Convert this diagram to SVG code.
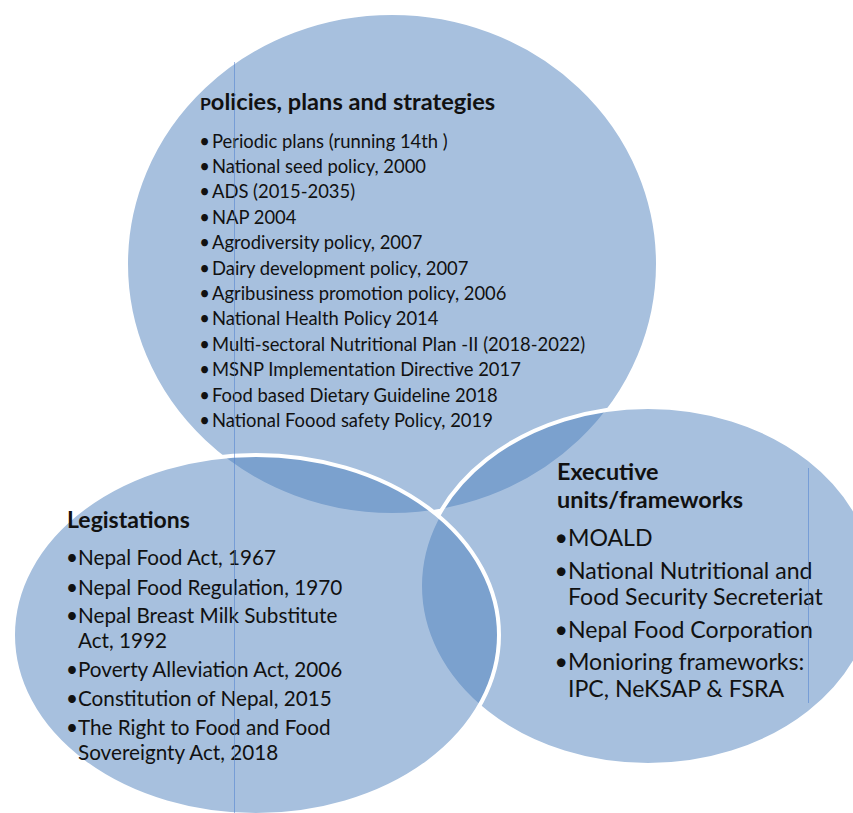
<svg xmlns="http://www.w3.org/2000/svg" width="853" height="813" viewBox="0 0 853 813">
<style>
.blob{fill:#4f81bd;fill-opacity:.5;stroke:#fff;stroke-width:4}
.guide{stroke:#4f7fd0;stroke-opacity:.55;stroke-width:1}
text{font-family:Lato,"Liberation Sans",sans-serif;fill:#111}
.h{font-weight:bold}
.b{text-anchor:end}
.tb{font-size:18.4px}
.lb{font-size:20.7px}
.rb{font-size:23.1px}
</style>
<rect width="853" height="813" fill="#fff"/>
<g id="policies">
<ellipse class="blob" cx="392" cy="264" rx="266" ry="251"/>
<text class="h" x="200" y="110" font-size="23.6"><tspan font-size="17.5">P</tspan>olicies, plans and strategies</text>
<g class="tb">
<text class="b" x="210" y="147.5">•</text><text x="212" y="147.5">Periodic plans (running 14th )</text>
<text class="b" x="210" y="172.9">•</text><text x="212" y="172.9">National seed policy, 2000</text>
<text class="b" x="210" y="198.3">•</text><text x="212" y="198.3">ADS (2015-2035)</text>
<text class="b" x="210" y="223.7">•</text><text x="212" y="223.7">NAP 2004</text>
<text class="b" x="210" y="249.1">•</text><text x="212" y="249.1">Agrodiversity policy, 2007</text>
<text class="b" x="210" y="274.5">•</text><text x="212" y="274.5">Dairy development policy, 2007</text>
<text class="b" x="210" y="299.9">•</text><text x="212" y="299.9">Agribusiness promotion policy, 2006</text>
<text class="b" x="210" y="325.3">•</text><text x="212" y="325.3">National Health Policy 2014</text>
<text class="b" x="210" y="350.7">•</text><text x="212" y="350.7">Multi-sectoral Nutritional Plan -II (2018-2022)</text>
<text class="b" x="210" y="376.1">•</text><text x="212" y="376.1">MSNP Implementation Directive 2017</text>
<text class="b" x="210" y="401.5">•</text><text x="212" y="401.5">Food based Dietary Guideline 2018</text>
<text class="b" x="210" y="426.9">•</text><text x="212" y="426.9">National Foood safety Policy, 2019</text>
</g>
</g>
<g id="executive">
<ellipse class="blob" cx="648" cy="586" rx="228" ry="179"/>
<text class="h" x="557" y="480" font-size="23.4">Executive</text>
<text class="h" x="557" y="508" font-size="23.4">units/frameworks</text>
<g class="rb">
<text class="b" x="568" y="546">•</text><text x="568" y="546">MOALD</text>
<text class="b" x="568" y="579">•</text><text x="568" y="579">National Nutritional and</text>
<text x="568" y="605">Food Security Secreteriat</text>
<text class="b" x="568" y="638">•</text><text x="568" y="638">Nepal Food Corporation</text>
<text class="b" x="568" y="670">•</text><text x="568" y="670">Monioring frameworks:</text>
<text x="568" y="697">IPC, NeKSAP &amp; FSRA</text>
</g>
</g>
<g id="legislations">
<ellipse class="blob" cx="256" cy="635" rx="243" ry="180"/>
<text class="h" x="67" y="528" font-size="23">Legistations</text>
<g class="lb">
<text class="b" x="78" y="565">•</text><text x="78" y="565">Nepal Food Act, 1967</text>
<text class="b" x="78" y="595">•</text><text x="78" y="595">Nepal Food Regulation, 1970</text>
<text class="b" x="78" y="623">•</text><text x="78" y="623">Nepal Breast Milk Substitute</text>
<text x="78" y="648">Act, 1992</text>
<text class="b" x="78" y="677">•</text><text x="78" y="677">Poverty Alleviation Act, 2006</text>
<text class="b" x="78" y="706">•</text><text x="78" y="706">Constitution of Nepal, 2015</text>
<text class="b" x="78" y="735">•</text><text x="78" y="735">The Right to Food and Food</text>
<text x="78" y="760">Sovereignty Act, 2018</text>
</g>
</g>
<g id="connectors">
<line class="guide" x1="234.5" y1="62" x2="234.5" y2="813"/>
<line class="guide" x1="808.5" y1="468" x2="808.5" y2="703"/>
</g>
</svg>
